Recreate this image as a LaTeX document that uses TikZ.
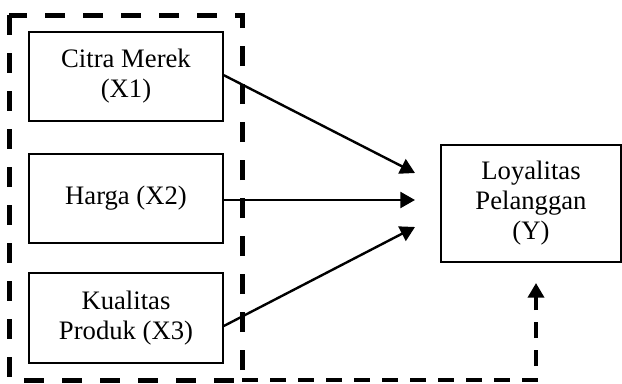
\documentclass[tikz,border=0pt]{standalone}
\usepackage{fontspec}
\setmainfont{Liberation Serif}
\usetikzlibrary{arrows.meta,calc}
\begin{document}
\begin{tikzpicture}[x=0.75pt,y=-0.75pt,
  box/.style={draw,line width=1.2pt,minimum width=145.5pt,align=center,inner sep=0pt,
    font=\fontsize{20}{22.5}\selectfont},
  arr/.style={line width=1.8pt,-{Triangle[length=11pt,width=12pt]}},
  bigdash/.style={line width=3.75pt,dash pattern=on 15pt off 13.5pt},
  smalldash/.style={line width=3pt,dash pattern=on 12pt off 9pt,-{Triangle[length=11pt,width=12pt]}}]
\useasboundingbox (0,0) rectangle (622,383);
\node[box,minimum height=66.75pt] (x1) at (126,76.5) {Citra Merek\\(X1)};
\node[box,minimum height=66.75pt] (x2) at (126,198.5) {Harga (X2)};
\node[box,minimum height=67.5pt] (x3) at (126,318) {Kualitas\\Produk (X3)};
\node[box,minimum width=135pt,minimum height=87.75pt] (y) at (531,203.5) {Loyalitas\\Pelanggan\\(Y)};
\coordinate (t1) at (415,173);
\coordinate (t2) at (415,200);
\coordinate (t3) at (415,227);
\coordinate (bl) at (9,15);
\coordinate (br) at (242,380);
\coordinate (t4) at (536,283);
\draw[bigdash] (bl) rectangle (br);
\draw[arr] ([yshift=1pt]x1.east) -- (t1);
\draw[arr] (x2.east |- t2) -- (t2);
\draw[arr] ([yshift=-6pt]x3.east) -- (t3);
\draw[smalldash] (br) -| (t4);
\end{tikzpicture}
\end{document}
